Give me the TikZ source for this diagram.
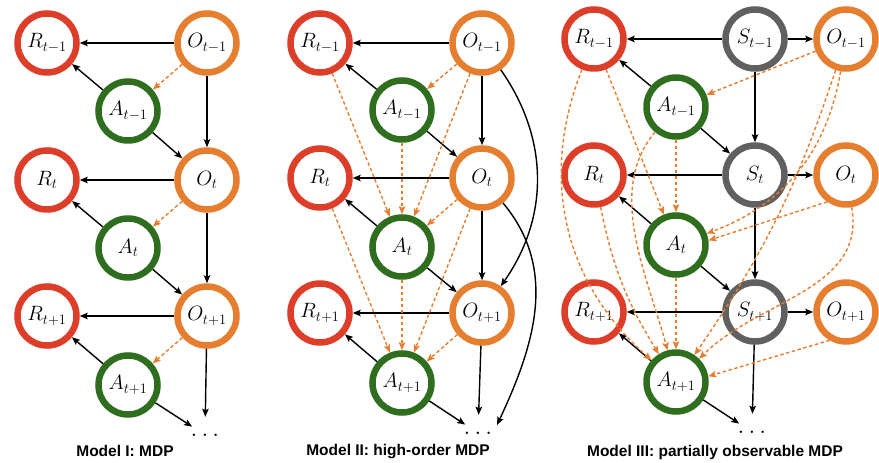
\documentclass[tikz,border=0pt]{standalone}
\usepackage{fontspec}
\newfontfamily\captionfont{Liberation Sans}
\usetikzlibrary{arrows.meta}

\definecolor{rewardred}{RGB}{221,62,42}
\definecolor{obsorange}{RGB}{230,126,48}
\definecolor{actgreen}{RGB}{46,110,30}
\definecolor{hiddengray}{RGB}{96,96,96}

\tikzset{
  var/.style={draw, circle, line width=6.5pt, minimum size=59pt, inner sep=0pt, fill=white, font=\fontsize{22}{26}\selectfont},
  reward/.style={var, draw=rewardred},
  action/.style={var, draw=actgreen},
  obs/.style={var, draw=obsorange},
  hidden/.style={var, draw=hiddengray},
  link/.style={->, line width=1.4pt, black},
  dep/.style={->, line width=1.4pt, obsorange, dash pattern=on 3.5pt off 2.5pt},
  ellipsis/.style={inner sep=0pt, minimum width=36pt, minimum height=12pt, font=\fontsize{26}{30}\selectfont},
  caption/.style={font=\captionfont\bfseries\fontsize{15.5}{18}\selectfont},
}

\begin{document}
\begin{tikzpicture}[x=1pt, y=1pt, >={Stealth[length=8pt, width=6.5pt, inset=1.5pt]}]
    \useasboundingbox (0,0) rectangle (879,463);

    % Model I
    \node[reward] (rI1) at (47,420) {$R_{t-1}$};
    \node[obs] (oI1) at (207,420) {$O_{t-1}$};
    \node[action] (aI1) at (128,352) {$A_{t-1}$};
    \node[reward] (rI2) at (47,283) {$R_t$};
    \node[obs] (oI2) at (207,283) {$O_t$};
    \node[action] (aI2) at (128,215) {$A_t$};
    \node[reward] (rI3) at (47,147) {$R_{t+1}$};
    \node[obs] (oI3) at (207,147) {$O_{t+1}$};
    \node[action] (aI3) at (128,78) {$A_{t+1}$};
    \node[ellipsis] (dI) at (205,28) {$\ldots$};
    \node[caption] (capI) at (125,12) {Model I: MDP};

    \draw[link] (oI1) -- (rI1);
    \draw[link] (aI1) -- (rI1);
    \draw[dep] (oI1) -- (aI1);
    \draw[link] (aI1) -- (oI2);
    \draw[link] (oI1) -- (oI2);
    \draw[link] (oI2) -- (rI2);
    \draw[link] (aI2) -- (rI2);
    \draw[dep] (oI2) -- (aI2);
    \draw[link] (aI2) -- (oI3);
    \draw[link] (oI2) -- (oI3);
    \draw[link] (oI3) -- (rI3);
    \draw[link] (aI3) -- (rI3);
    \draw[dep] (oI3) -- (aI3);
    \draw[link, shorten >=4pt] (aI3) -- (dI);
    \draw[link, shorten >=12pt] (oI3) -- (dI);

    % Model II
    \node[reward] (rII1) at (320,420) {$R_{t-1}$};
    \node[obs] (oII1) at (482,420) {$O_{t-1}$};
    \node[action] (aII1) at (402,353) {$A_{t-1}$};
    \node[reward] (rII2) at (320,285) {$R_t$};
    \node[obs] (oII2) at (482,285) {$O_t$};
    \node[action] (aII2) at (402,216) {$A_t$};
    \node[reward] (rII3) at (320,150) {$R_{t+1}$};
    \node[obs] (oII3) at (482,150) {$O_{t+1}$};
    \node[action] (aII3) at (402,80) {$A_{t+1}$};
    \node[ellipsis] (dII) at (478,30) {$\ldots$};
    \node[caption] (capII) at (398,11) {Model II: high-order MDP};

    \draw[link] (oII1) -- (rII1);
    \draw[link] (aII1) -- (rII1);
    \draw[dep] (oII1) -- (aII1);
    \draw[link] (aII1) -- (oII2);
    \draw[link] (oII1) -- (oII2);
    \draw[link] (oII2) -- (rII2);
    \draw[link] (aII2) -- (rII2);
    \draw[link] (aII2) -- (oII3);
    \draw[link] (oII2) -- (oII3);
    \draw[link] (oII3) -- (rII3);
    \draw[link] (aII3) -- (rII3);
    \draw[link, shorten >=4pt] (aII3) -- (dII);
    \draw[link, shorten >=12pt] (oII3) -- (dII);
    \draw[link] (oII1) to[out=-55, in=55] (oII3);
    \draw[link, shorten >=2pt] (oII2) to[out=-50, in=65] (dII.north east);
    \draw[dep] (rII1) -- (aII2);
    \draw[dep] (aII1) -- (aII2);
    \draw[dep] (oII1) -- (aII2);
    \draw[dep] (oII2) -- (aII2);
    \draw[dep] (rII2) -- (aII3);
    \draw[dep] (aII2) -- (aII3);
    \draw[dep] (oII2) -- (aII3);
    \draw[dep] (oII3) -- (aII3);

    % Model III
    \node[reward] (rIII1) at (594,424) {$R_{t-1}$};
    \node[hidden] (sIII1) at (755,424) {$S_{t-1}$};
    \node[obs] (oIII1) at (846,424) {$O_{t-1}$};
    \node[action] (aIII1) at (676,356) {$A_{t-1}$};
    \node[reward] (rIII2) at (594,288) {$R_t$};
    \node[hidden] (sIII2) at (755,288) {$S_t$};
    \node[obs] (oIII2) at (846,288) {$O_t$};
    \node[action] (aIII2) at (676,218) {$A_t$};
    \node[reward] (rIII3) at (594,151) {$R_{t+1}$};
    \node[hidden] (sIII3) at (755,151) {$S_{t+1}$};
    \node[obs] (oIII3) at (846,151) {$O_{t+1}$};
    \node[action] (aIII3) at (676,81) {$A_{t+1}$};
    \node[ellipsis] (dIII) at (752,31) {$\ldots$};
    \node[caption] (capIII) at (715,11) {Model III: partially observable MDP};

    \draw[link] (sIII1) -- (rIII1);
    \draw[link] (sIII1) -- (oIII1);
    \draw[link] (aIII1) -- (rIII1);
    \draw[link] (aIII1) -- (sIII2);
    \draw[link] (sIII1) -- (sIII2);
    \draw[link] (sIII2) -- (rIII2);
    \draw[link] (sIII2) -- (oIII2);
    \draw[link] (aIII2) -- (rIII2);
    \draw[link] (aIII2) -- (sIII3);
    \draw[link] (sIII2) -- (sIII3);
    \draw[link] (sIII3) -- (rIII3);
    \draw[link] (sIII3) -- (oIII3);
    \draw[link] (aIII3) -- (rIII3);
    \draw[link, shorten >=4pt] (aIII3) -- (dIII);
    \draw[link, shorten >=12pt] (sIII3) -- (dIII);
    \draw[dep] (oIII1) -- (aIII1);
    \draw[dep] (rIII1) -- (aIII2);
    \draw[dep] (aIII1) -- (aIII2);
    \draw[dep] (oIII1) to[bend left=30] (aIII2);
    \draw[dep] (oIII2.-125) -- (aIII2.8);
    \draw[dep] (rIII1) to[bend right=35] (aIII3);
    \draw[dep] (rIII2) to[bend right=10] (aIII3);
    \draw[dep] (aIII1) to[out=-130, in=105, looseness=0.9] (aIII3);
    \draw[dep] (aIII2) -- (aIII3);
    \draw[dep] (oIII1) to[bend left=8] (aIII3);
    \draw[dep] (oIII2) to[out=-80, in=45] (aIII3);
    \draw[dep] (oIII3.-120) -- (aIII3.10);
\end{tikzpicture}
\end{document}
